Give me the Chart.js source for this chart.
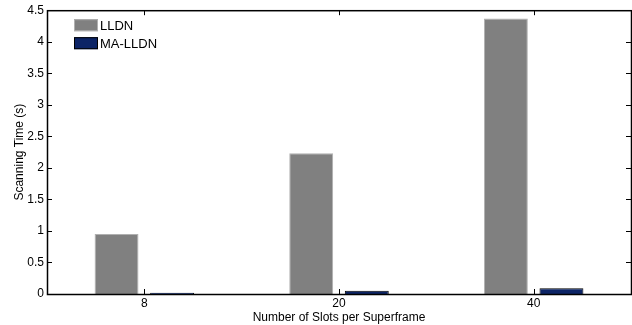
<!DOCTYPE html>
<html>
<head>
<meta charset="utf-8">
<script src="https://cdn.jsdelivr.net/npm/chart.js@4/dist/chart.umd.min.js"></script>
<style>
  html, body { margin: 0; padding: 0; background: #fff; }
  #wrap { width: 632px; height: 325px; position: relative; }
</style>
</head>
<body>
<div id="wrap"><canvas id="c" width="632" height="325"></canvas></div>
<script>
// Slots per superframe on the x axis
const slotCounts = ['8', '20', '40'];
// Scanning time in seconds for each protocol
const lldnTime = [0.95, 2.23, 4.37];
const maLldnTime = [0.02, 0.05, 0.09];
const seriesNames = ['LLDN', 'MA-LLDN'];

const FONT = 'Arial, "Liberation Sans", sans-serif';

// Boxed frame with inward tick marks on all four sides, MATLAB style
const framePlugin = {
  id: 'frame',
  afterDatasetsDraw(chart) {
    const { ctx, chartArea: a, scales } = chart;
    const t = 5;
    ctx.save();
    ctx.strokeStyle = '#000';
    ctx.lineWidth = 1;
    ctx.beginPath();
    scales.y.ticks.forEach(tk => {
      const y = Math.round(scales.y.getPixelForValue(tk.value)) + 0.5;
      ctx.moveTo(a.left, y); ctx.lineTo(a.left + t, y);
      ctx.moveTo(a.right, y); ctx.lineTo(a.right - t, y);
    });
    scales.x.ticks.forEach((tk, i) => {
      const x = Math.round(scales.x.getPixelForValue(i)) + 0.5;
      ctx.moveTo(x, a.bottom); ctx.lineTo(x, a.bottom - t);
      ctx.moveTo(x, a.top); ctx.lineTo(x, a.top + t);
    });
    ctx.stroke();
    ctx.lineWidth = 1.5;
    ctx.strokeRect(a.left + 0.5, a.top + 0.5, a.right - a.left, a.bottom - a.top);
    ctx.restore();
  }
};

// Legend drawn inside the plot, top-left
const insideLegend = {
  id: 'insideLegend',
  afterDraw(chart) {
    const { ctx, chartArea: a } = chart;
    ctx.save();
    ctx.font = '13px ' + FONT;
    ctx.textBaseline = 'middle';
    chart.data.datasets.forEach((ds, i) => {
      const x = a.left + 27, y = a.top + 9 + i * 18;
      ctx.fillStyle = ds.backgroundColor;
      ctx.fillRect(x, y, 24, 12);
      ctx.strokeStyle = ds.borderColor;
      ctx.lineWidth = 1;
      ctx.strokeRect(x + 0.5, y + 0.5, 23, 11);
      ctx.fillStyle = '#000';
      ctx.fillText(ds.label, x + 26, y + 7);
    });
    ctx.restore();
  }
};

new Chart(document.getElementById('c'), {
  type: 'bar',
  data: {
    labels: slotCounts,
    datasets: [
      { label: seriesNames[0], data: lldnTime, backgroundColor: '#808080', borderColor: '#b0b0b0', borderWidth: 1 },
      { label: seriesNames[1], data: maLldnTime, backgroundColor: '#0c2466', borderColor: '#000000', borderWidth: 1 }
    ]
  },
  options: {
    responsive: false,
    animation: false,
    devicePixelRatio: 1,
    layout: { padding: { top: 9, right: 1, left: 0, bottom: 0 } },
    datasets: { bar: { categoryPercentage: 0.571, barPercentage: 0.79 } },
    plugins: { legend: { display: false }, tooltip: { enabled: false } },
    scales: {
      x: {
        afterFit(s) { s.height = 31; },
        grid: { display: false, drawTicks: false },
        border: { display: false },
        ticks: { color: '#000', font: { family: FONT, size: 12 }, padding: 2 },
        title: { display: true, text: 'Number of Slots per Superframe', color: '#000',
                 font: { family: FONT, size: 12 }, padding: { top: 0, bottom: 0 } }
      },
      y: {
        min: 0, max: 4.5,
        afterFit(s) { s.width = 47; },
        grid: { display: false, drawTicks: false },
        border: { display: false },
        ticks: { stepSize: 0.5, color: '#000', font: { family: FONT, size: 12 }, padding: 3,
                 callback: v => String(v) },
        title: { display: true, text: 'Scanning Time (s)', color: '#000',
                 font: { family: FONT, size: 12 }, padding: { top: 12, bottom: 0 } }
      }
    }
  },
  plugins: [framePlugin, insideLegend]
});
</script>
</body>
</html>
